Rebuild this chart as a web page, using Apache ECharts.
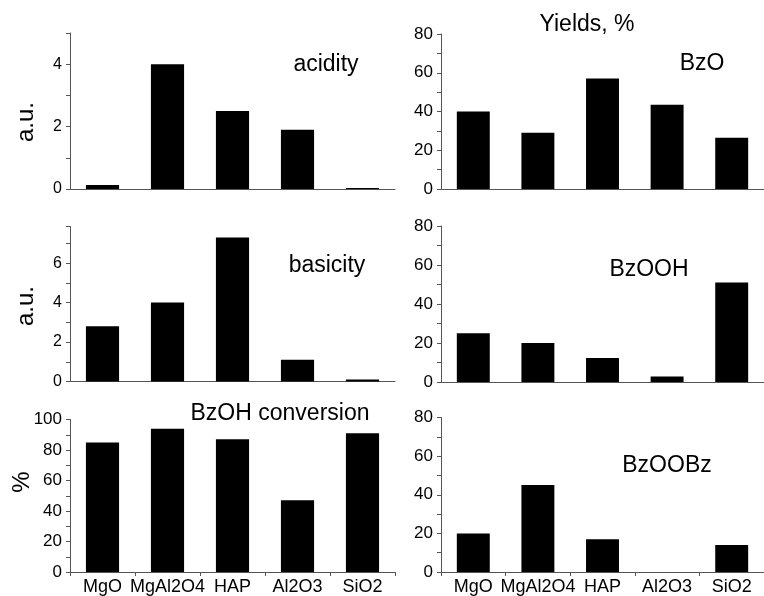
<!DOCTYPE html>
<html>
<head>
<meta charset="utf-8">
<script src="https://cdn.jsdelivr.net/npm/echarts@6/dist/echarts.min.js"></script>
<style>html,body{margin:0;padding:0;background:#fff;}#c{width:764px;height:596px;}</style>
</head>
<body>
<div id="c"></div>
<script>
var categories = ['MgO', 'MgAl2O4', 'HAP', 'Al2O3', 'SiO2'];
var acidity = [0.13, 4.0, 2.5, 1.9, 0.03];
var basicity = [2.8, 4.0, 7.3, 1.1, 0.1];
var conversion = [85, 94, 87, 47, 91];
var yieldBzO = [40, 29, 57, 43.5, 26.5];
var yieldBzOOH = [25, 20, 12.3, 2.8, 51];
var yieldBzOOBz = [20, 45, 17, 0, 14];

var FONT = "'Liberation Sans', Arial, sans-serif";
var AX = '#555';

var panels = [
  {grid: {left: 70, top: 33, width: 325, height: 156}, data: acidity, max: 5, interval: 1, labelStep: 2, bottom: false, fs: 16},
  {grid: {left: 70, top: 226.5, width: 325, height: 155}, data: basicity, max: 7.86, interval: 1, labelStep: 2, bottom: false, fs: 16},
  {grid: {left: 70, top: 419.5, width: 325, height: 153}, data: conversion, max: 100, interval: 10, labelStep: 20, bottom: true, fs: 17},
  {grid: {left: 441, top: 34, width: 325, height: 155}, data: yieldBzO, max: 80, interval: 10, labelStep: 20, bottom: false, fs: 17},
  {grid: {left: 441, top: 226, width: 325, height: 156}, data: yieldBzOOH, max: 80, interval: 10, labelStep: 20, bottom: false, fs: 17},
  {grid: {left: 441, top: 417.5, width: 325, height: 155}, data: yieldBzOOBz, max: 80, interval: 10, labelStep: 20, bottom: true, fs: 17}
];

var grids = [], xAxes = [], yAxes = [], series = [];
panels.forEach(function (p, i) {
  grids.push(Object.assign({containLabel: false}, p.grid));
  xAxes.push({
    type: 'category', gridIndex: i, data: categories,
    axisLine: {lineStyle: {color: AX, width: 1}},
    axisTick: {show: p.bottom, length: 4, lineStyle: {color: AX}},
    axisLabel: {show: p.bottom, color: '#000', fontSize: 18, fontFamily: FONT, margin: 6, interval: 0}
  });
  (function (step) {
    yAxes.push({
      type: 'value', gridIndex: i, min: 0, max: p.max, interval: p.interval,
      axisLine: {show: true, lineStyle: {color: AX, width: 1}},
      axisTick: {show: true, length: 4, lineStyle: {color: AX}},
      splitLine: {show: false},
      axisLabel: {
        color: '#000', fontSize: p.fs, fontFamily: FONT, margin: 8,
        formatter: function (v) { return (Math.abs(v / step - Math.round(v / step)) < 1e-6) ? String(v) : ''; }
      }
    });
  })(p.labelStep);
  series.push({
    type: 'bar', xAxisIndex: i, yAxisIndex: i, data: p.data, barWidth: '51%',
    itemStyle: {color: '#000'}, silent: true, animation: false
  });
});

function txt(x, y, s, size, rot) {
  return {
    type: 'text', x: x, y: y, rotation: rot || 0,
    style: {text: s, fill: '#000', font: size + 'px ' + FONT, textAlign: 'center', textVerticalAlign: 'middle'}
  };
}

var chart = echarts.init(document.getElementById('c'));
chart.setOption({
  animation: false,
  grid: grids, xAxis: xAxes, yAxis: yAxes, series: series,
  graphic: [
    txt(326, 65, 'acidity', 23),
    txt(327, 266, 'basicity', 23),
    txt(280, 414, 'BzOH conversion', 23),
    txt(587, 25, 'Yields, %', 23),
    txt(702, 64, 'BzO', 23),
    txt(649, 270, 'BzOOH', 23),
    txt(667, 466, 'BzOOBz', 23),
    txt(26, 122, 'a.u.', 24, Math.PI / 2),
    txt(26, 306, 'a.u.', 24, Math.PI / 2),
    txt(22, 482, '%', 24, Math.PI / 2)
  ]
});
</script>
</body>
</html>
